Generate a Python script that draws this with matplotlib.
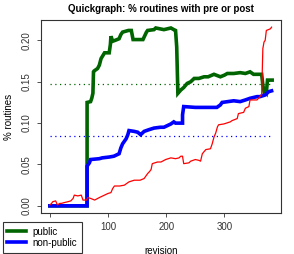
import numpy as np
import matplotlib
matplotlib.use("Agg")
import matplotlib.pyplot as plt
from matplotlib.lines import Line2D

# values
public_rev = [0, 64, 64, 70, 72, 74, 75, 76, 82, 85, 88, 94, 102, 104, 105,
              108, 112, 119, 122, 125, 135, 140, 143, 156, 160, 162, 166, 168, 179, 182,
              196, 208, 213, 216, 218, 220, 225, 230, 236, 242, 248, 256, 265, 272, 282,
              293, 300, 305, 316, 327, 336, 344, 350, 364, 366, 368, 370, 372, 374, 376,
              382]
public_pct = [0, 0, 0.125, 0.126, 0.130, 0.136, 0.162, 0.163, 0.166, 0.170,
              0.178, 0.185, 0.185, 0.195, 0.205, 0.199, 0.200, 0.202, 0.207, 0.210,
              0.212, 0.212, 0.201, 0.201, 0.201, 0.204, 0.210, 0.212, 0.213, 0.215,
              0.213, 0.215, 0.213, 0.212, 0.192, 0.136, 0.140, 0.143, 0.148, 0.150,
              0.154, 0.154, 0.156, 0.156, 0.159, 0.156, 0.158, 0.160, 0.160, 0.161,
              0.160, 0.162, 0.159, 0.159, 0.146, 0.138, 0.139, 0.137, 0.152, 0.152,
              0.152]

nonpublic_rev = [0, 64, 64, 68, 70, 85, 90, 102, 110, 119, 122, 125, 128, 131, 134,
                 136, 145, 151, 156, 159, 162, 170, 179, 190, 196, 202, 208, 213, 216, 228,
                 228, 230, 250, 276, 287, 293, 296, 316, 327, 336, 344, 356, 361, 370, 373,
                 376, 381]
nonpublic_pct = [0, 0, 0.048, 0.052, 0.056, 0.057, 0.058, 0.059, 0.060, 0.063,
                 0.070, 0.075, 0.078, 0.081, 0.086, 0.091, 0.090, 0.089, 0.086, 0.088,
                 0.090, 0.092, 0.094, 0.095, 0.095, 0.097, 0.099, 0.1015, 0.100, 0.100,
                 0.110, 0.120, 0.119, 0.119, 0.119, 0.122, 0.125, 0.127, 0.126, 0.128,
                 0.130, 0.132, 0.132, 0.134, 0.136, 0.138, 0.139]

other_rev = [0, 3, 5, 10, 13, 17, 20, 25, 31, 36, 40, 42, 48, 54, 57, 63, 65, 70, 77, 85,
             94, 100, 105, 108, 111, 120, 128, 132, 136, 145, 155, 162, 168, 172, 174,
             176, 185, 191, 199, 208, 216, 222, 225, 228, 230, 239, 242, 250, 256, 259,
             262, 268, 276, 279, 282, 285, 288, 290, 299, 310, 313, 322, 324, 333, 336,
             342, 344, 356, 361, 364, 366, 368, 370, 372, 379, 381]
other_pct = [0.001, 0.003, 0.005, 0.006, 0.001, 0.003, 0.003, 0.004, 0.005, 0.006,
             0.009, 0.013, 0.012, 0.013, 0.007, 0.007, 0.010, 0.009, 0.007, 0.010,
             0.013, 0.015, 0.016, 0.021, 0.024, 0.024, 0.025, 0.027, 0.029, 0.031,
             0.031, 0.033, 0.039, 0.042, 0.044, 0.051, 0.053, 0.053, 0.056, 0.058,
             0.057, 0.058, 0.060, 0.060, 0.051, 0.052, 0.054, 0.056, 0.055, 0.054,
             0.063, 0.068, 0.069, 0.075, 0.083, 0.088, 0.0955, 0.098, 0.099, 0.1015,
             0.103, 0.1055, 0.1115, 0.113, 0.118, 0.120, 0.128, 0.128, 0.132, 0.135,
             0.190, 0.198, 0.200, 0.212, 0.214, 0.216]

# averages drawn as dotted lines over the revision range
public_mean = 0.147
nonpublic_mean = 0.084
rev_range = [0, 380]

x_ticks = [0, 100, 200, 300]
# the "0" label sits under the legend box in the reference, so it is not shown
x_tick_labels = ['', '100', '200', '300']
y_ticks = [0.00, 0.05, 0.10, 0.15, 0.20]

green = "#006400"
blue = "#0000FF"
red = "#FF0000"

plt.rcParams['font.family'] = ['Liberation Sans', 'DejaVu Sans']

fig = plt.figure(figsize=(2.94, 2.54), dpi=100)
ax = fig.add_axes([41 / 294, 1 - 213 / 254, 240 / 294, 193 / 254])

ax.plot(public_rev, public_pct, color=green, linewidth=2.6, solid_joinstyle='miter')
ax.plot(nonpublic_rev, nonpublic_pct, color=blue, linewidth=2.6, solid_joinstyle='miter')
ax.plot(other_rev, other_pct, color=red, linewidth=0.9)

ax.plot(rev_range, [public_mean, public_mean], color=green, linewidth=0.9,
        linestyle=(0, (1, 2.8)))
ax.plot(rev_range, [nonpublic_mean, nonpublic_mean], color=blue, linewidth=0.9,
        linestyle=(0, (1, 2.8)))

# R style padding of 4% around the data
ax.set_xlim(-15.2, 397.2)
ax.set_ylim(-0.00864, 0.22464)

ax.set_xticks(x_ticks)
ax.set_xticklabels(x_tick_labels)
ax.set_yticks(y_ticks)
ax.set_yticklabels([f"{v:.2f}" for v in y_ticks], rotation=90, va='center')
ax.tick_params(axis='both', labelsize=7, length=3, width=0.6, colors='#333333')
ax.tick_params(axis='x', pad=3.2)
ax.tick_params(axis='y', pad=4)

for s in ax.spines.values():
    s.set_linewidth(0.8)
    s.set_color('#333333')

ax.set_xlabel('revision', fontsize=7, labelpad=10)
ax.set_ylabel('% routines', fontsize=7, labelpad=5.5)
ax.set_title('Quickgraph: % routines with pre or post', fontsize=7, fontweight='bold', pad=6)

handles = [Line2D([], [], color=green, linewidth=2.6),
           Line2D([], [], color=blue, linewidth=2.6)]
leg = fig.legend(handles, ['public', 'non-public'], loc='upper left',
                 bbox_to_anchor=(2.5 / 294, 1 - 222 / 254), borderaxespad=0, fontsize=7,
                 fancybox=False, edgecolor='#333333', framealpha=1,
                 handlelength=1.9, borderpad=0.5, labelspacing=0.1, handletextpad=0.7)
leg.get_frame().set_linewidth(0.8)

fig.savefig('out.png', dpi=100)
